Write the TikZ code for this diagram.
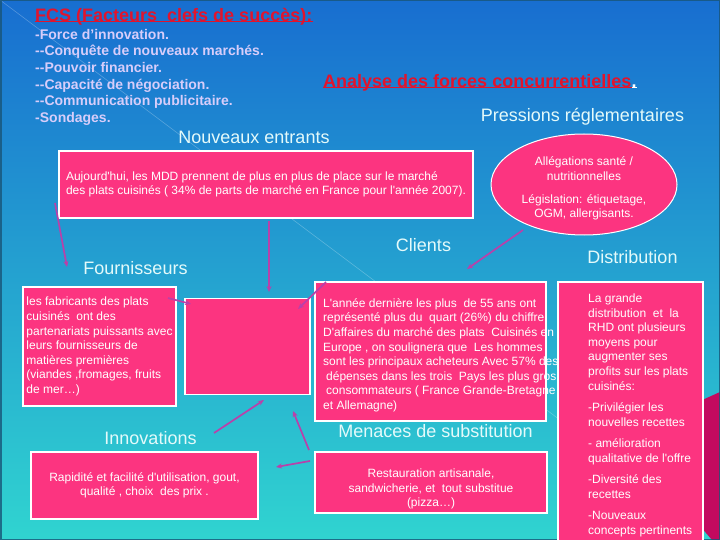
\documentclass[tikz,border=0pt]{standalone}
\usepackage{fontspec}
\setmainfont{Liberation Sans}
\usepackage{xcolor}
\usepackage{tikz}
\usetikzlibrary{arrows.meta,shapes}
\definecolor{rose}{RGB}{252,52,128}
\definecolor{rouge}{RGB}{225,20,45}
\definecolor{lavande}{RGB}{215,205,250}
\definecolor{titre}{RGB}{228,250,250}
\definecolor{violet}{RGB}{185,65,170}
\definecolor{ciel}{RGB}{24,110,208}
\definecolor{turquoise}{RGB}{26,186,200}
\definecolor{lagon}{RGB}{48,212,208}
\definecolor{pourpre}{RGB}{195,10,95}
\definecolor{bordure}{RGB}{25,85,120}
\newcommand{\petit}{\fontsize{12}{14.6}\selectfont}
\newcommand{\grand}{\fontsize{18}{21}\selectfont}

\begin{document}
\begin{tikzpicture}[x=1pt,y=-1pt,
boite/.style={draw=white,line width=1.3pt,fill=rose,inner sep=0pt,align=left,text=white,font=\petit},
texte/.style={text=white,font=\petit,inner sep=0pt,align=left},
rubrique/.style={text=titre,font=\grand,inner sep=0pt,anchor=base},
souligne/.style={line width=1.3pt,yshift=-2.2pt},
fleche/.style={-{Stealth[length=6pt,width=5pt]},draw=violet,line width=1.7pt}]
\useasboundingbox (0,0) rectangle (720,540);
\fill[top color=ciel,middle color=turquoise,bottom color=lagon] (0,0) rectangle (720,540);
\draw[white,opacity=.25,line width=.6pt] (0,0) -- (720,540);
\fill[pourpre] (700,401) -- (720,392) -- (720,540) -- (712,540) -- (700,526) -- cycle;
\draw[bordure,opacity=.8,line width=3pt] (0,0) rectangle (720,540);

\node[inner sep=0pt,anchor=base west,text=rouge,font=\grand\bfseries] (fcs) at (35,21.7) {FCS (Facteurs~ clefs de succès):};
\draw[souligne,rouge] (fcs.base west) -- (fcs.base east);
\node[inner sep=0pt,anchor=north west,align=left,text=lavande,font=\fontsize{14}{16.6}\selectfont\bfseries] (liste) at (35,28.9)
{-Force d’innovation.\\-{}-Conquête de nouveaux marchés.\\-{}-Pouvoir financier.\\-{}-Capacité de négociation.\\-{}-Communication publicitaire.\\-Sondages.};
\node[inner sep=0pt,anchor=base west,text=rouge,font=\grand\bfseries] (analyse) at (323,87.5) {Analyse des forces concurrentielles};
\node[inner sep=0pt,anchor=base west,text=white,font=\grand\bfseries] (point) at (analyse.base east) {.};
\draw[souligne,rouge] (analyse.base west) -- (analyse.base east);
\draw[souligne,white] (point.base west) -- (point.base east);

\node[rubrique] (pressions) at (582.5,121.3) {Pressions réglementaires};
\node[rubrique] (nouveaux) at (254,143.3) {Nouveaux entrants};
\node[rubrique] (clientslbl) at (423.5,251.3) {Clients};
\node[rubrique] (distriblbl) at (632.5,263.3) {Distribution};
\node[rubrique] (fournlbl) at (135.5,274.3) {Fournisseurs};
\node[rubrique] (innovlbl) at (150.5,444.3) {Innovations};
\node[rubrique] (menaceslbl) at (435.5,437.3) {Menaces de substitution};

\node[boite,minimum width=414,minimum height=67] (entrants) at (266,184.5)
{Aujourd\textquotesingle hui, les MDD prennent de plus en plus de place sur le marché\\des plats cuisinés ( 34\% de parts de marché en France pour l\textquotesingle année 2007).};
\node[boite,ellipse,line width=1pt,minimum width=186,minimum height=101] (allegations) at (584,184.5) {};
\node[texte,align=center] (allegtxt) at (584,188.5)
{Allégations santé /\\nutritionnelles\\[8.4pt]Législation: étiquetage,\\OGM, allergisants.};

\node[boite,minimum width=153,minimum height=119] (fournisseurs) at (99.5,346.5)
{les fabricants des plats\\cuisinés~ ont des\\partenariats puissants avec\\leurs fournisseurs de\\matières premières\\(viandes ,fromages, fruits\\de mer…)};
\node[boite,minimum width=125,minimum height=96] (vide) at (247.5,346.5) {};
\node[boite,minimum width=145,minimum height=290] (distribution) at (630.5,427) {};
\node[boite,minimum width=231,minimum height=139] (clients) at (430.5,351.5) {};
\node[texte,anchor=north west] (clientstxt) at (323,298.3)
{L\textquotesingle année dernière les plus~ de 55 ans ont\\représenté plus du~ quart (26\%) du chiffre\\D\textquotesingle affaires du marché des plats~ Cuisinés en\\Europe , on soulignera que~ Les hommes\\sont les principaux acheteurs Avec 57\% des\\\hspace*{3pt}dépenses dans les trois~ Pays les plus gros\\\hspace*{3pt}consommateurs ( France Grande-Bretagne\\et Allemagne)};
\node[texte,anchor=north west] (distribtxt) at (588,293.7)
{La grande\\distribution~ et~ la\\RHD ont plusieurs\\moyens pour\\augmenter ses\\profits sur les plats\\cuisinés:\\[6.8pt]-Privilégier les\\nouvelles recettes\\[6.8pt]- amélioration\\qualitative de l\textquotesingle offre\\[6.8pt]-Diversité des\\recettes\\[6.8pt]-Nouveaux\\concepts pertinents};

\node[boite,align=center,minimum width=227,minimum height=67] (innovations) at (144.5,485.5)
{Rapidité et facilité d\textquotesingle utilisation, gout,\\qualité , choix~ des prix .};
\node[boite,minimum width=232,minimum height=61] (substitution) at (431,482.5) {};
\node[texte,align=center] (substtxt) at (431,489)
{Restauration artisanale,\\sandwicherie, et~ tout substitue\\(pizza…)};

\coordinate (nf1) at (55,203); \coordinate (nf2) at (67,267);
\coordinate (nv1) at (269,221); \coordinate (nv2) at (269,292);
\coordinate (fv1) at (168,298); \coordinate (fv2) at (191,304);
\coordinate (cv1) at (326,282); \coordinate (cv2) at (298,309);
\coordinate (pc1) at (523,230); \coordinate (pc2) at (467,269);
\coordinate (iv1) at (214,433); \coordinate (iv2) at (264,400);
\coordinate (sc1) at (309,450); \coordinate (sc2) at (293,411);
\coordinate (si1) at (310,461); \coordinate (si2) at (276,467);
\draw[fleche] (nf1) -- (nf2);
\draw[fleche] (nv1) -- (nv2);
\draw[fleche] (fv1) -- (fv2);
\draw[fleche] (cv1) -- (cv2);
\draw[fleche] (pc1) -- (pc2);
\draw[fleche] (iv1) -- (iv2);
\draw[fleche] (sc1) -- (sc2);
\draw[fleche] (si1) -- (si2);
\end{tikzpicture}
\end{document}
